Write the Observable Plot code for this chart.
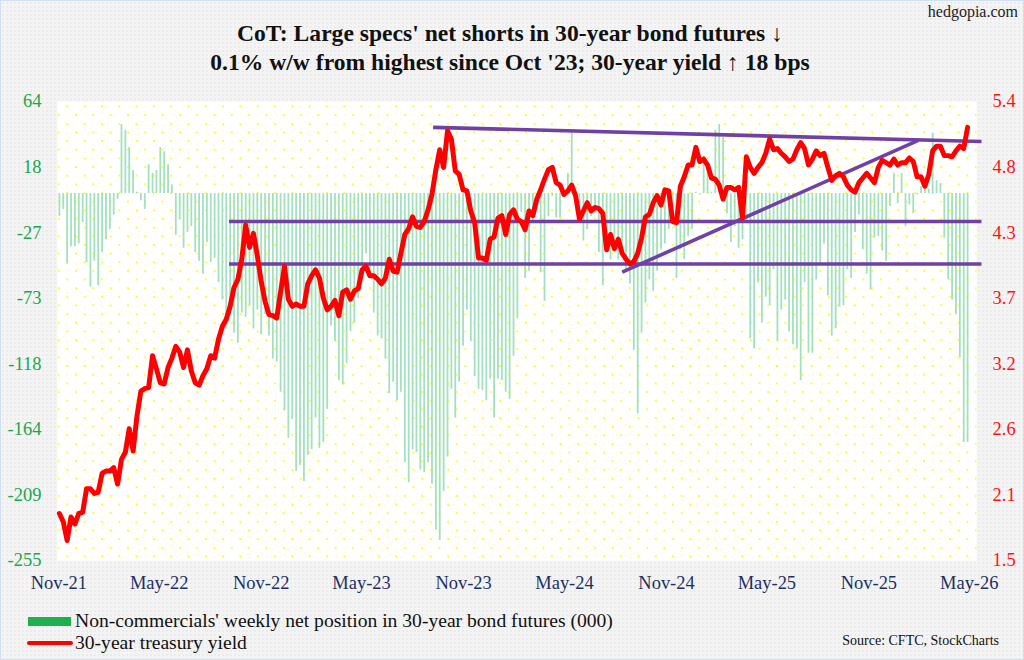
<!DOCTYPE html>
<html>
<head>
<meta charset="utf-8">
<script src="https://cdn.jsdelivr.net/npm/d3@7"></script>
<script src="https://cdn.jsdelivr.net/npm/@observablehq/plot@0.6"></script>
<style>
  html, body { margin: 0; padding: 0; }
  body { width: 1024px; height: 660px; overflow: hidden; font-family: "Liberation Serif", "Times New Roman", serif; }
  #page { position: relative; width: 1022px; height: 658px; border: 1px solid #cfe0f2;
    background-color: #f4f4f4;
    background-image: radial-gradient(#ebebeb 0.8px, transparent 0.9px);
    background-size: 4px 4px; }
  #site { position: absolute; right: 5px; top: 2px; font-size: 16px; color: #222; }
  #title { position: absolute; left: 0; top: 18px; width: 1018px; text-align: center;
    font-weight: bold; font-size: 23.6px; line-height: 29px; color: #111; }
  #chart { position: absolute; left: 0; top: 87px; }
  .leg { position: absolute; left: 74px; font-size: 19.6px; color: #111; line-height: 20px; }
  #src { position: absolute; right: 24px; top: 632px; font-size: 14px; color: #111; }
</style>
</head>
<body>
<div id="page">
  <div id="site">hedgopia.com</div>
  <div id="title">CoT: Large specs' net shorts in 30-year bond futures ↓<br>0.1% w/w from highest since Oct '23; 30-year yield ↑ 18 bps</div>
  <div id="chart"></div>
  <div style="position:absolute;left:27px;top:616px;width:43px;height:9px;background:#1db04c;"></div>
  <div class="leg" style="top:610px;">Non-commercials' weekly net position in 30-year bond futures (000)</div>
  <div style="position:absolute;left:26px;top:640px;width:46px;height:4px;border-radius:2px;background:#ff0000;"></div>
  <div class="leg" style="top:632px;">30-year treasury yield</div>
  <div id="src">Source: CFTC, StockCharts</div>
</div>
<script>
// ---- data (weekly CoT report dates, Tuesdays, from 2021-11-02) ----
const firstWeek = "2021-11-02";

// Non-commercials' weekly net position in 30-year bond futures (000)
const netPosition = [
  -16,-11,-49,-37,-37,-35,-20,-48,-65,-47,
  -64,-41,-32,-25,-15,-4,48,44,32,16,
  1,-5,-11,20,14,16,32,29,20,6,
  -29,-18,-38,-27,-23,-41,-47,-56,-34,-48,
  -45,-62,-74,-94,-85,-97,-104,-83,-86,-78,
  -94,-81,-98,-84,-99,-115,-117,-138,-151,-170,
  -157,-193,-189,-200,-182,-178,-156,-177,-173,-150,
  -92,-103,-130,-133,-118,-96,-90,-73,-54,-42,
  -53,-83,-99,-101,-115,-139,-131,-144,-138,-187,
  -201,-178,-180,-192,-194,-187,-202,-234,-241,-207,
  -183,-136,-156,-131,-106,-81,-103,-127,-136,-137,
  -144,-129,-156,-129,-130,-138,-143,-113,-87,-13,
  -59,-54,-20,-11,-55,-75,-16,-2,-17,-17,
  -2,14,43,-2,-9,-33,-25,-16,-14,-41,
  -64,-37,-46,-34,-46,-41,-53,-63,-109,-153,
  -97,-76,-60,-68,-54,-39,-35,-25,-20,-59,
  -39,-46,-30,-25,1,-1,26,18,1,44,
  48,39,-14,-34,-23,-38,-32,-20,-101,-108,
  -62,-90,-72,-78,-53,-103,-81,-74,-96,-105,
  -108,-130,-62,-111,-111,-60,-50,-35,-71,-99,
  -94,-79,-78,-53,-59,-27,-15,-39,-56,-67,
  -31,-30,-40,-47,-9,14,-7,14,-23,-8,
  -14,-1,5,5,3,42,9,7,-31,-60,
  -74,-84,-114,-173.0,-172.8
];

// 30-year treasury yield (%)
const yield30 = [
  1.90,1.83,1.67,1.87,1.81,1.90,1.91,2.11,2.11,2.07,
  2.08,2.24,2.26,2.26,2.29,2.15,2.36,2.42,2.62,2.43,
  2.73,2.94,2.96,2.97,3.24,3.13,3.01,3.00,3.14,3.22,
  3.32,3.27,3.14,3.29,3.11,3.01,2.99,3.07,3.13,3.24,
  3.22,3.38,3.49,3.55,3.66,3.82,3.89,4.06,4.35,4.16,
  4.28,4.09,3.87,3.70,3.59,3.58,3.56,3.78,4.00,3.72,
  3.66,3.68,3.66,3.66,3.85,3.92,3.97,3.90,3.73,3.63,
  3.66,3.71,3.58,3.78,3.80,3.72,3.79,3.81,3.97,4.00,
  3.92,3.92,3.89,3.85,3.90,4.06,3.96,3.95,4.11,4.27,
  4.32,4.42,4.34,4.33,4.38,4.48,4.61,4.82,4.99,4.84,
  5.15,5.08,4.81,4.78,4.65,4.64,4.47,4.37,4.07,4.07,
  4.05,4.23,4.25,4.41,4.43,4.27,4.44,4.48,4.40,4.38,
  4.31,4.47,4.43,4.57,4.65,4.74,4.82,4.84,4.71,4.69,
  4.61,4.64,4.69,4.60,4.40,4.47,4.54,4.47,4.50,4.49,
  4.45,4.14,4.27,4.15,4.23,4.11,4.06,4.02,4.04,4.11,
  4.24,4.42,4.44,4.54,4.60,4.52,4.65,4.64,4.38,4.37,
  4.68,4.76,4.86,4.86,5.01,4.89,4.91,4.86,4.75,4.74,
  4.69,4.57,4.67,4.67,4.65,4.67,4.41,4.93,4.84,4.79,
  4.84,4.88,4.96,5.08,4.99,5.00,4.96,4.93,4.89,4.91,
  4.99,5.05,5.00,4.86,4.91,4.98,4.94,4.96,4.84,4.73,
  4.77,4.79,4.76,4.69,4.65,4.63,4.71,4.75,4.79,4.75,
  4.71,4.84,4.90,4.88,4.86,4.91,4.86,4.88,4.88,4.92,
  4.89,4.76,4.76,4.68,4.78,4.98,5.02,5.02,4.94,4.94,
  4.93,4.98,5.02,5.00,5.18
];

// Hand-drawn trend lines on the yield (dates, yield levels)
const trendStart = ["2022-09-04","2022-09-04","2023-09-07","2024-08-13"];
const trendEnd   = ["2026-05-23","2026-05-23","2026-05-23","2026-01-29"];
const trendFrom  = [4.38, 4.02, 5.18, 3.95];
const trendTo    = [4.38, 4.02, 5.06, 5.07];

// Axes
const leftTickLabels  = ["64","18","-27","-73","-118","-164","-209","-255"];
const rightTickLabels = ["5.4","4.8","4.3","3.7","3.2","2.6","2.1","1.5"];
const xTickDates  = ["2021-11-01","2022-05-01","2022-11-01","2023-05-01","2023-11-01","2024-05-01","2024-11-01","2025-05-01","2025-11-01","2026-05-01"];
const xTickLabels = ["Nov-21","May-22","Nov-22","May-23","Nov-23","May-24","Nov-24","May-25","Nov-25","May-26"];

// ---- build ----
const posMin = -255, posMax = 64, yMin = 1.5, yMax = 5.4;
const toPos = v => posMin + (v - yMin) * (posMax - posMin) / (yMax - yMin);
const start = new Date(firstWeek + "T00:00:00Z");
const rows = netPosition.map((v, i) => ({date: d3.utcDay.offset(start, 7 * i), pos: v, yld: yield30[i]}));
const trends = trendStart.map((s, i) => ({
  d1: new Date(s + "T00:00:00Z"), d2: new Date(trendEnd[i] + "T00:00:00Z"),
  v1: toPos(trendFrom[i]), v2: toPos(trendTo[i])
}));
const nT = leftTickLabels.length;
const yTicks = d3.range(nT).map(k => posMax - k * (posMax - posMin) / (nT - 1));
const idx = d => yTicks.findIndex(t => Math.abs(t - d) < 1e-6);
const xTicks = xTickDates.map(s => new Date(s + "T00:00:00Z"));
const xFmt = d => xTickLabels[xTicks.findIndex(t => +t === +d)];

const FONT = "Liberation Serif, Times New Roman, serif";

const chart = Plot.plot({
  width: 1024,
  height: 520,
  marginLeft: 56,
  marginRight: 47,
  marginTop: 13,
  marginBottom: 47,
  style: {fontFamily: FONT, background: "transparent", overflow: "visible"},
  x: {type: "utc", domain: [new Date("2021-10-29T10:00:00Z"), new Date("2026-05-14T05:00:00Z")]},
  y: {domain: [posMin, posMax]},
  marks: [
    Plot.frame({fill: "#ffffff", stroke: "none"}),
    Plot.frame({fill: "url(#dotgrid)", stroke: "none"}),
    Plot.ruleX(rows, {x: "date", y1: 0, y2: "pos", stroke: "#a2e0bf", strokeWidth: 1.8}),
    Plot.link(trends, {x1: "d1", y1: "v1", x2: "d2", y2: "v2", stroke: "#7040a4", strokeWidth: 3.6}),
    Plot.line(rows, {x: "date", y: d => toPos(d.yld), stroke: "#ff0000", strokeWidth: 5, strokeLinejoin: "round", strokeLinecap: "round"}),
    Plot.axisY({anchor: "left", ticks: yTicks, tickFormat: d => leftTickLabels[idx(d)], tickSize: 0, tickPadding: 16,
      fontSize: 18.5, fontFamily: FONT, color: "#1aa64e", fill: "#1aa64e", label: null}),
    Plot.axisY({anchor: "right", ticks: yTicks, tickFormat: d => rightTickLabels[idx(d)], tickSize: 0, tickPadding: 16,
      fontSize: 18.5, fontFamily: FONT, color: "#ff1111", fill: "#ff1111", label: null}),
    Plot.axisX({ticks: xTicks, tickFormat: xFmt, tickSize: 0, tickPadding: 15,
      fontSize: 18.5, fontFamily: FONT, color: "#1c2f63", fill: "#1c2f63", label: null})
  ]
});

// yellow dotted grid pattern for the plot area
const ns = "http://www.w3.org/2000/svg";
const defs = document.createElementNS(ns, "defs");
const pat = document.createElementNS(ns, "pattern");
pat.setAttribute("id", "dotgrid");
pat.setAttribute("patternUnits", "userSpaceOnUse");
pat.setAttribute("x", "65");
pat.setAttribute("y", "17");
pat.setAttribute("width", "17.34");
pat.setAttribute("height", "17.34");
[[0.1, 0.1], [8.77, 8.77]].forEach(([a, b]) => {
  const r = document.createElementNS(ns, "rect");
  r.setAttribute("x", a); r.setAttribute("y", b);
  r.setAttribute("width", "1.8"); r.setAttribute("height", "1.8");
  r.setAttribute("fill", "#ffff00");
  pat.appendChild(r);
});
defs.appendChild(pat);
chart.insertBefore(defs, chart.firstChild);
document.getElementById("chart").appendChild(chart);
</script>
</body>
</html>
